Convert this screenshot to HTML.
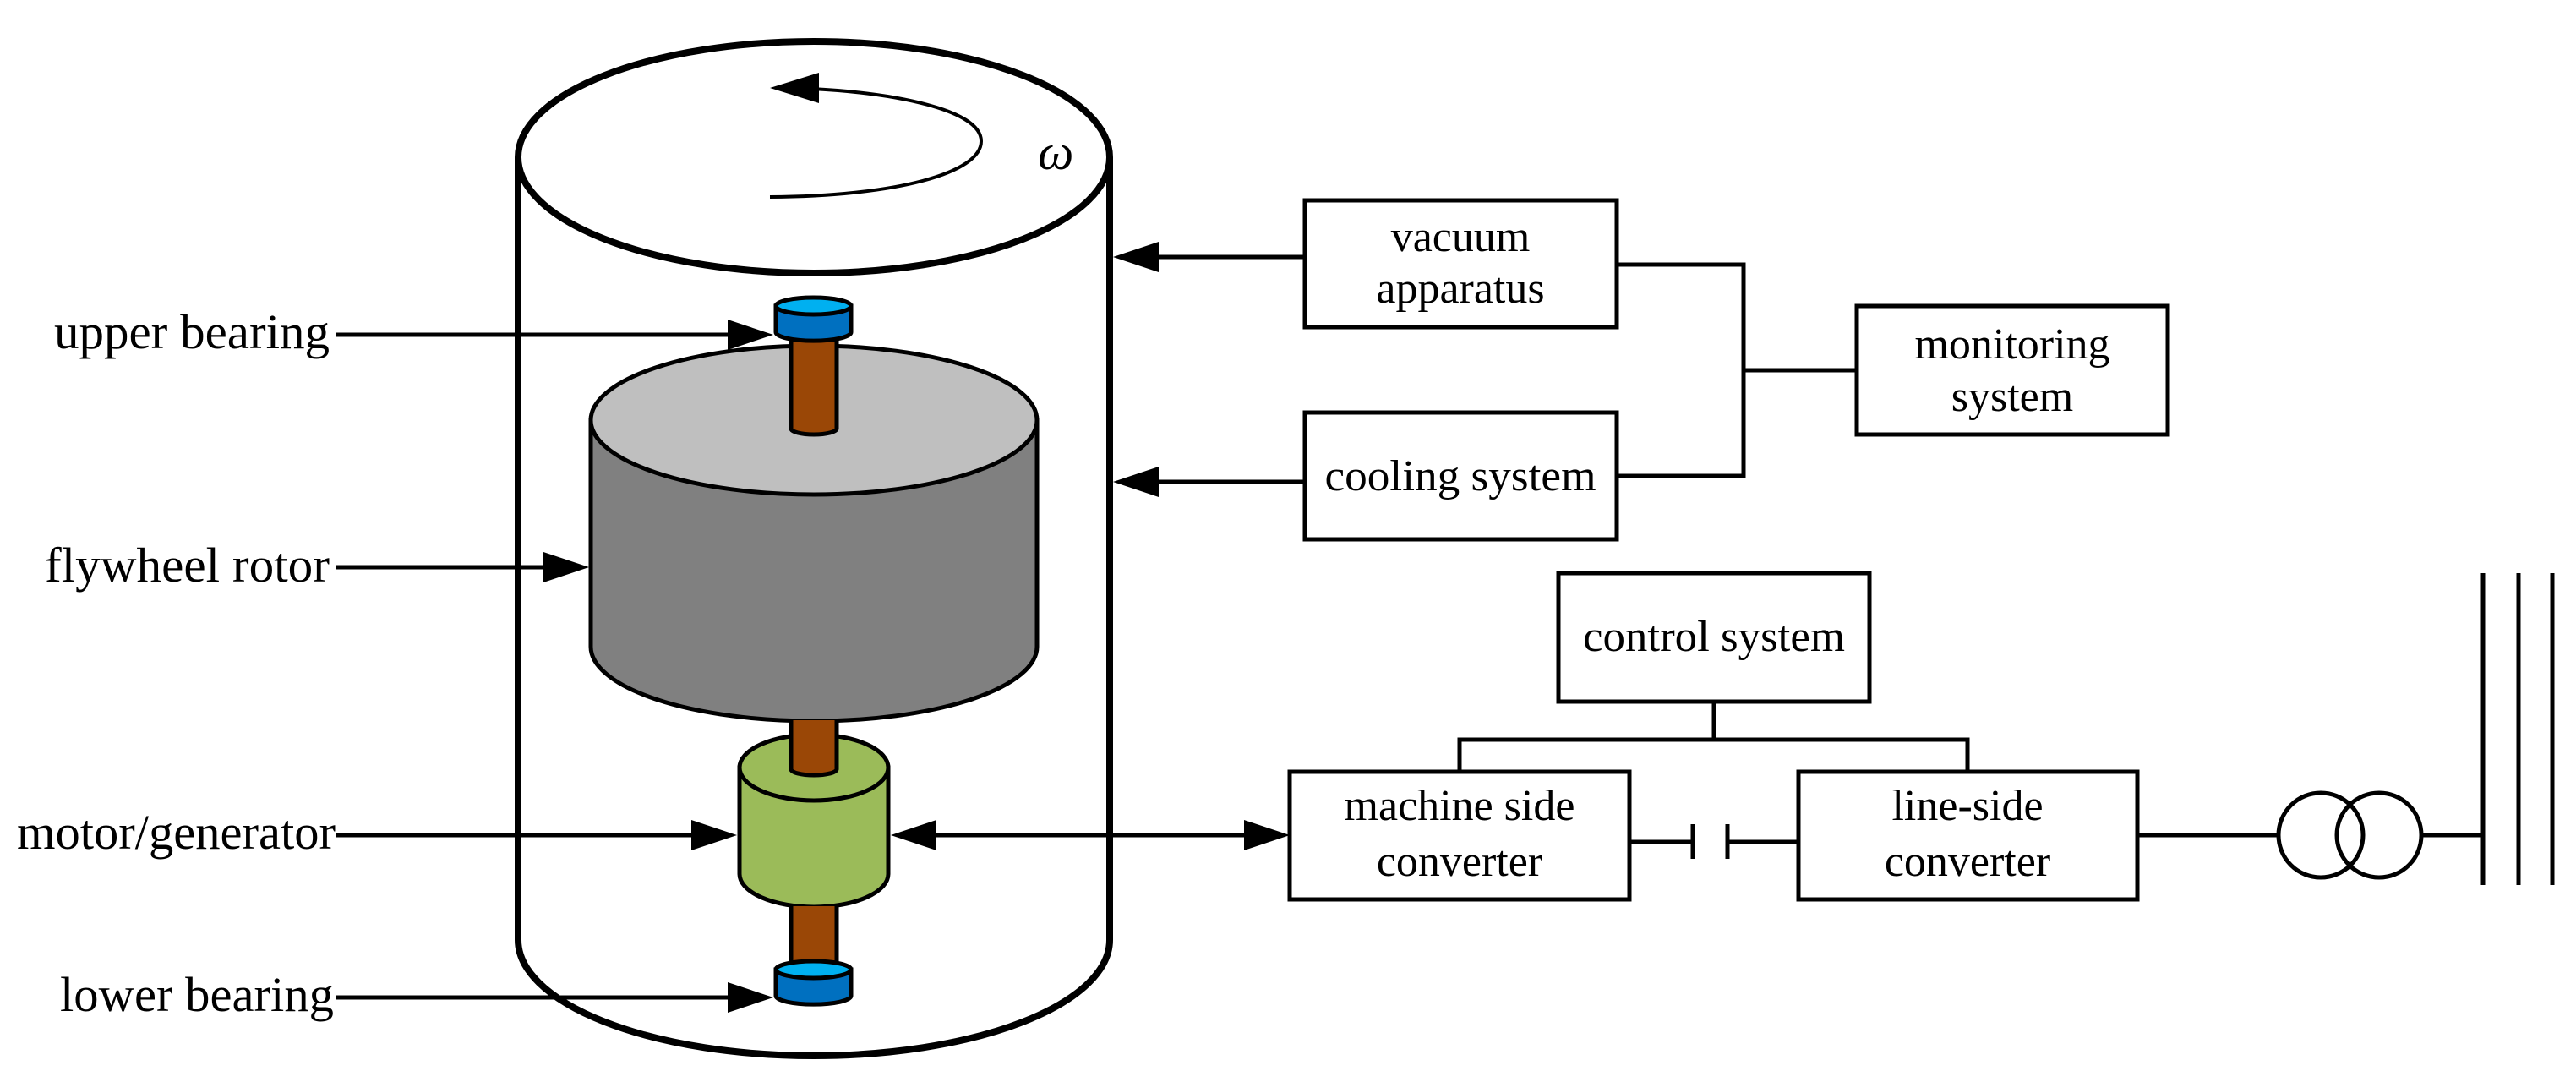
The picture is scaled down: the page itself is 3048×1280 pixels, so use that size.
<!DOCTYPE html>
<html><head><meta charset="utf-8"><style>html,body{margin:0;padding:0;background:#fff}svg{display:block}</style></head>
<body>
<svg width="3048" height="1280" viewBox="0 0 3048 1280" xmlns="http://www.w3.org/2000/svg">
<g fill="none" stroke="#000">
<path d="M613 186 L613 1112 A350 137 0 0 0 1313 1112 L1313 186" stroke-width="8"/>
<ellipse cx="963" cy="186" rx="350" ry="137" stroke-width="8" fill="#fff"/>
<path d="M911 233 C1060 232 1161 205 1161 167 C1161 130 1060 110 960 105" stroke-width="4"/>
</g>
<polygon points="911,104 969,86 969,122" fill="#000"/>
<text x="1228" y="200" font-family="Liberation Serif, serif" font-style="italic" font-size="60">ω</text>

<path d="M699 497 L699 765 A264 88 0 0 0 1227 765 L1227 497 Z" fill="#808080" stroke="#000" stroke-width="5"/>
<ellipse cx="963" cy="497" rx="264" ry="88" fill="#bfbfbf" stroke="#000" stroke-width="5"/>
<path d="M936 395 L936 507 A27 7 0 0 0 990 507 L990 395 Z" fill="#9a4706" stroke="#000" stroke-width="5"/>
<path d="M918 362 L918 393 A44 10 0 0 0 1007 393 L1007 362 Z" fill="#0070c0" stroke="#000" stroke-width="5"/>
<ellipse cx="962.5" cy="362" rx="44.5" ry="10" fill="#00b0f0" stroke="#000" stroke-width="5"/>
<path d="M875 908 L875 1034 A88 39 0 0 0 1051 1034 L1051 908 Z" fill="#9bbb59" stroke="#000" stroke-width="5"/>
<ellipse cx="963" cy="908" rx="88" ry="39" fill="#9bbb59" stroke="#000" stroke-width="5"/>
<path d="M936 852 L936 910 A27 7 0 0 0 990 910 L990 852" fill="#9a4706" stroke="#000" stroke-width="5"/>
<path d="M936 1072 L936 1145 L990 1145 L990 1072" fill="#9a4706" stroke="#000" stroke-width="5"/>
<path d="M918 1147 L918 1178 A44 10 0 0 0 1007 1178 L1007 1147 Z" fill="#0070c0" stroke="#000" stroke-width="5"/>
<ellipse cx="962.5" cy="1147" rx="44.5" ry="10" fill="#00b0f0" stroke="#000" stroke-width="5"/>

<g font-family="Liberation Serif, serif" font-size="58" fill="#000" text-anchor="end">
<text x="390" y="412" textLength="326" lengthAdjust="spacingAndGlyphs">upper bearing</text>
<text x="390" y="688" textLength="337" lengthAdjust="spacingAndGlyphs">flywheel rotor</text>
<text x="397" y="1004" textLength="377" lengthAdjust="spacingAndGlyphs">motor/generator</text>
<text x="395" y="1196" textLength="324" lengthAdjust="spacingAndGlyphs">lower bearing</text>
</g>
<g stroke="#000" stroke-width="5">
<line x1="397" y1="396" x2="870" y2="396"/>
<line x1="397" y1="671" x2="650" y2="671"/>
<line x1="397" y1="988" x2="820" y2="988"/>
<line x1="397" y1="1180" x2="870" y2="1180"/>
<line x1="1360" y1="304" x2="1544" y2="304"/>
<line x1="1360" y1="570" x2="1544" y2="570"/>
<line x1="1100" y1="988" x2="1480" y2="988"/>
</g>
<g fill="#000">
<polygon points="915,396 861,378 861,414"/>
<polygon points="697,671 643,653 643,689"/>
<polygon points="872,988 818,970 818,1006"/>
<polygon points="915,1180 861,1162 861,1198"/>
<polygon points="1317,304 1371,286 1371,322"/>
<polygon points="1317,570 1371,552 1371,588"/>
<polygon points="1054,988 1108,970 1108,1006"/>
<polygon points="1526,988 1472,970 1472,1006"/>
</g>

<g fill="none" stroke="#000" stroke-width="5">
<rect x="1544" y="237" width="369" height="150"/>
<rect x="1544" y="488" width="369" height="150"/>
<rect x="2197" y="362" width="368" height="152"/>
<rect x="1844" y="678" width="368" height="152"/>
<rect x="1526" y="913" width="402" height="151"/>
<rect x="2128" y="913" width="401" height="151"/>
<polyline points="1913,313 2063,313 2063,563 1913,563"/>
<line x1="2063" y1="438" x2="2197" y2="438"/>
<line x1="2028" y1="830" x2="2028" y2="875"/>
<polyline points="1727,913 1727,875 2328,875 2328,913"/>
<line x1="1928" y1="996" x2="2003" y2="996"/>
<line x1="2003" y1="975" x2="2003" y2="1016"/>
<line x1="2044" y1="975" x2="2044" y2="1016"/>
<line x1="2044" y1="996" x2="2128" y2="996"/>
<line x1="2529" y1="988" x2="2695" y2="988"/>
<circle cx="2746" cy="988" r="50"/>
<circle cx="2815" cy="988" r="50"/>
<line x1="2865" y1="988" x2="2938" y2="988"/>
<line x1="2938" y1="678" x2="2938" y2="1047"/>
<line x1="2980" y1="678" x2="2980" y2="1047"/>
<line x1="3020" y1="678" x2="3020" y2="1047"/>
</g>
<g font-family="Liberation Serif, serif" font-size="52" fill="#000" text-anchor="middle">
<text x="1728" y="297">vacuum</text>
<text x="1728" y="358">apparatus</text>
<text x="1728" y="580" textLength="321" lengthAdjust="spacingAndGlyphs">cooling system</text>
<text x="2381" y="424">monitoring</text>
<text x="2381" y="486">system</text>
<text x="2028" y="770" textLength="310" lengthAdjust="spacingAndGlyphs">control system</text>
<text x="1727" y="970">machine side</text>
<text x="1727" y="1036">converter</text>
<text x="2328" y="970">line-side</text>
<text x="2328" y="1036">converter</text>
</g>
</svg>
</body></html>
